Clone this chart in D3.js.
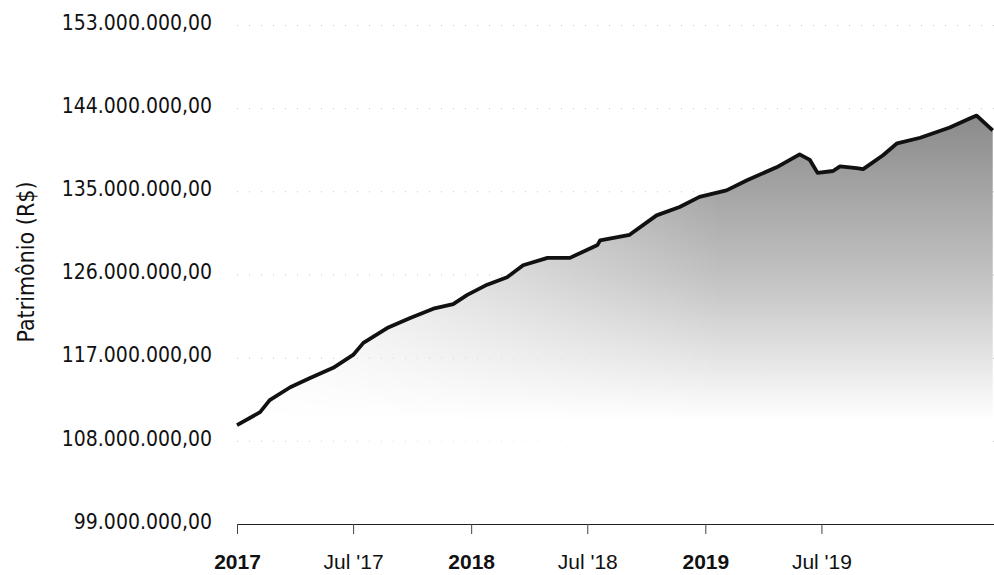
<!DOCTYPE html>
<html>
<head>
<meta charset="utf-8">
<script src="https://cdn.jsdelivr.net/npm/d3@7"></script>
<style>
  body { margin: 0; background: #fff; }
  svg { display: block; }
</style>
</head>
<body>
<div id="chart"></div>
<script>
  // patrimonio values (R$ millions)
  const dates = [
    "2017-01-01", "2017-02-06", "2017-02-21", "2017-03-25", "2017-04-25", "2017-05-31",
    "2017-07-01", "2017-07-17", "2017-08-23", "2017-09-28", "2017-11-03", "2017-12-04",
    "2017-12-26", "2018-01-26", "2018-02-26", "2018-03-23", "2018-04-30", "2018-06-04",
    "2018-07-17", "2018-07-21", "2018-09-05", "2018-10-17", "2018-11-22", "2018-12-23",
    "2019-02-03", "2019-03-07", "2019-04-22", "2019-05-28", "2019-06-13", "2019-06-25",
    "2019-07-19", "2019-07-30", "2019-08-25", "2019-09-04", "2019-10-05", "2019-10-27",
    "2019-12-02", "2020-01-17", "2020-02-18", "2020-02-28", "2020-03-24"
  ];
  const values = [
    109.7, 111.1, 112.4, 113.8, 114.8, 115.9,
    117.3, 118.6, 120.2, 121.3, 122.3, 122.8,
    123.8, 124.9, 125.7, 127.0, 127.8, 127.8,
    129.2, 129.7, 130.3, 132.4, 133.3, 134.4,
    135.1, 136.2, 137.6, 139.0, 138.4, 137.0,
    137.2, 137.7, 137.5, 137.4, 138.9, 140.2,
    140.8, 141.9, 142.9, 143.2, 141.6
  ];
  const yTicks = [99, 108, 117, 126, 135, 144, 153];
  const xTickDates = ["2017-01-01", "2017-07-01", "2018-01-01", "2018-07-01", "2019-01-01", "2019-07-01"];
  const xTickLabels = ["2017", "Jul '17", "2018", "Jul '18", "2019", "Jul '19"];
  const yTitle = "Patrimônio (R$)";

  const width = 994, height = 575;
  const parse = d3.timeParse("%Y-%m-%d");
  const data = dates.map((d, i) => ({ date: parse(d), value: values[i] }));

  const ptBR = d3.formatLocale({ decimal: ",", thousands: ".", grouping: [3], currency: ["R$", ""] });
  const fmt = ptBR.format(",.2f");

  const x = d3.scaleTime()
    .domain([parse("2017-01-01"), parse("2020-03-26")])
    .range([237, 994]);
  const y = d3.scaleLinear()
    .domain([99, 153])
    .range([524, 25]);

  const svg = d3.select("#chart").append("svg")
    .attr("width", width)
    .attr("height", height);

  const defs = svg.append("defs");
  const grad = defs.append("linearGradient")
    .attr("id", "areaFill")
    .attr("gradientUnits", "userSpaceOnUse")
    .attr("x1", 0).attr("x2", 0)
    .attr("y1", 115).attr("y2", 420);
  grad.append("stop").attr("offset", "0%").attr("stop-color", "#8a8a8a");
  grad.append("stop").attr("offset", "55%").attr("stop-color", "#c4c4c4");
  grad.append("stop").attr("offset", "100%").attr("stop-color", "#ffffff");

  // scan fades out towards the left side
  const fade = defs.append("linearGradient")
    .attr("id", "fadeGrad")
    .attr("gradientUnits", "userSpaceOnUse")
    .attr("x1", 237).attr("x2", 720)
    .attr("y1", 0).attr("y2", 0);
  fade.append("stop").attr("offset", "0%").attr("stop-color", "#111");
  fade.append("stop").attr("offset", "100%").attr("stop-color", "#fff");
  defs.append("mask").attr("id", "fadeMask")
    .append("rect")
    .attr("x", 0).attr("y", 0)
    .attr("width", width).attr("height", height)
    .attr("fill", "url(#fadeGrad)");

  // faint dotted grid
  svg.append("g")
    .attr("transform", "translate(237,0)")
    .call(d3.axisLeft(y).tickValues(yTicks.slice(1)).tickSize(-(width - 237)).tickFormat(""))
    .call(g => g.select(".domain").remove())
    .call(g => g.selectAll("line")
      .attr("stroke", "#c4c4c4")
      .attr("stroke-dasharray", "1,11"));

  const area = d3.area()
    .x(d => x(d.date))
    .y0(y(99))
    .y1(d => y(d.value));

  const line = d3.line()
    .x(d => x(d.date))
    .y(d => y(d.value));

  svg.append("path")
    .datum(data)
    .attr("fill", "url(#areaFill)")
    .attr("mask", "url(#fadeMask)")
    .attr("d", area);

  svg.append("path")
    .datum(data)
    .attr("fill", "none")
    .attr("stroke", "#111")
    .attr("stroke-width", 3.8)
    .attr("stroke-linejoin", "round")
    .attr("d", line);

  // y axis labels
  svg.append("g")
    .attr("transform", "translate(212,0)")
    .call(d3.axisLeft(y).tickValues(yTicks).tickSize(0).tickPadding(0)
      .tickFormat(d => fmt(d * 1e6)))
    .call(g => g.select(".domain").remove())
    .call(g => g.selectAll("text")
      .attr("dy", "0.2em")
      .attr("fill", "#111")
      .style("font-family", "'DejaVu Sans Condensed', 'DejaVu Sans', sans-serif")
      .style("font-size", "21px"));

  // x axis
  svg.append("g")
    .attr("transform", `translate(0,${y(99)})`)
    .call(d3.axisBottom(x)
      .tickValues(xTickDates.map(parse))
      .tickSize(10)
      .tickPadding(20)
      .tickFormat((d, i) => xTickLabels[i]))
    .call(g => g.select(".domain")
      .attr("d", `M237,0.5H${width}`)
      .attr("stroke", "#222"))
    .call(g => g.selectAll(".tick line").attr("stroke", "#444"))
    .call(g => g.selectAll("text")
      .attr("fill", "#111")
      .style("font-family", "'Liberation Sans', Arial, sans-serif")
      .style("font-size", "21px")
      .style("font-weight", (d, i) => xTickLabels[i].startsWith("Jul") ? "normal" : "bold"));

  svg.append("text")
    .attr("transform", "translate(34,262) rotate(-90)")
    .attr("text-anchor", "middle")
    .attr("fill", "#111")
    .style("font-family", "'DejaVu Sans Condensed', 'DejaVu Sans', sans-serif")
    .style("font-size", "23px")
    .text(yTitle);
</script>
</body>
</html>
